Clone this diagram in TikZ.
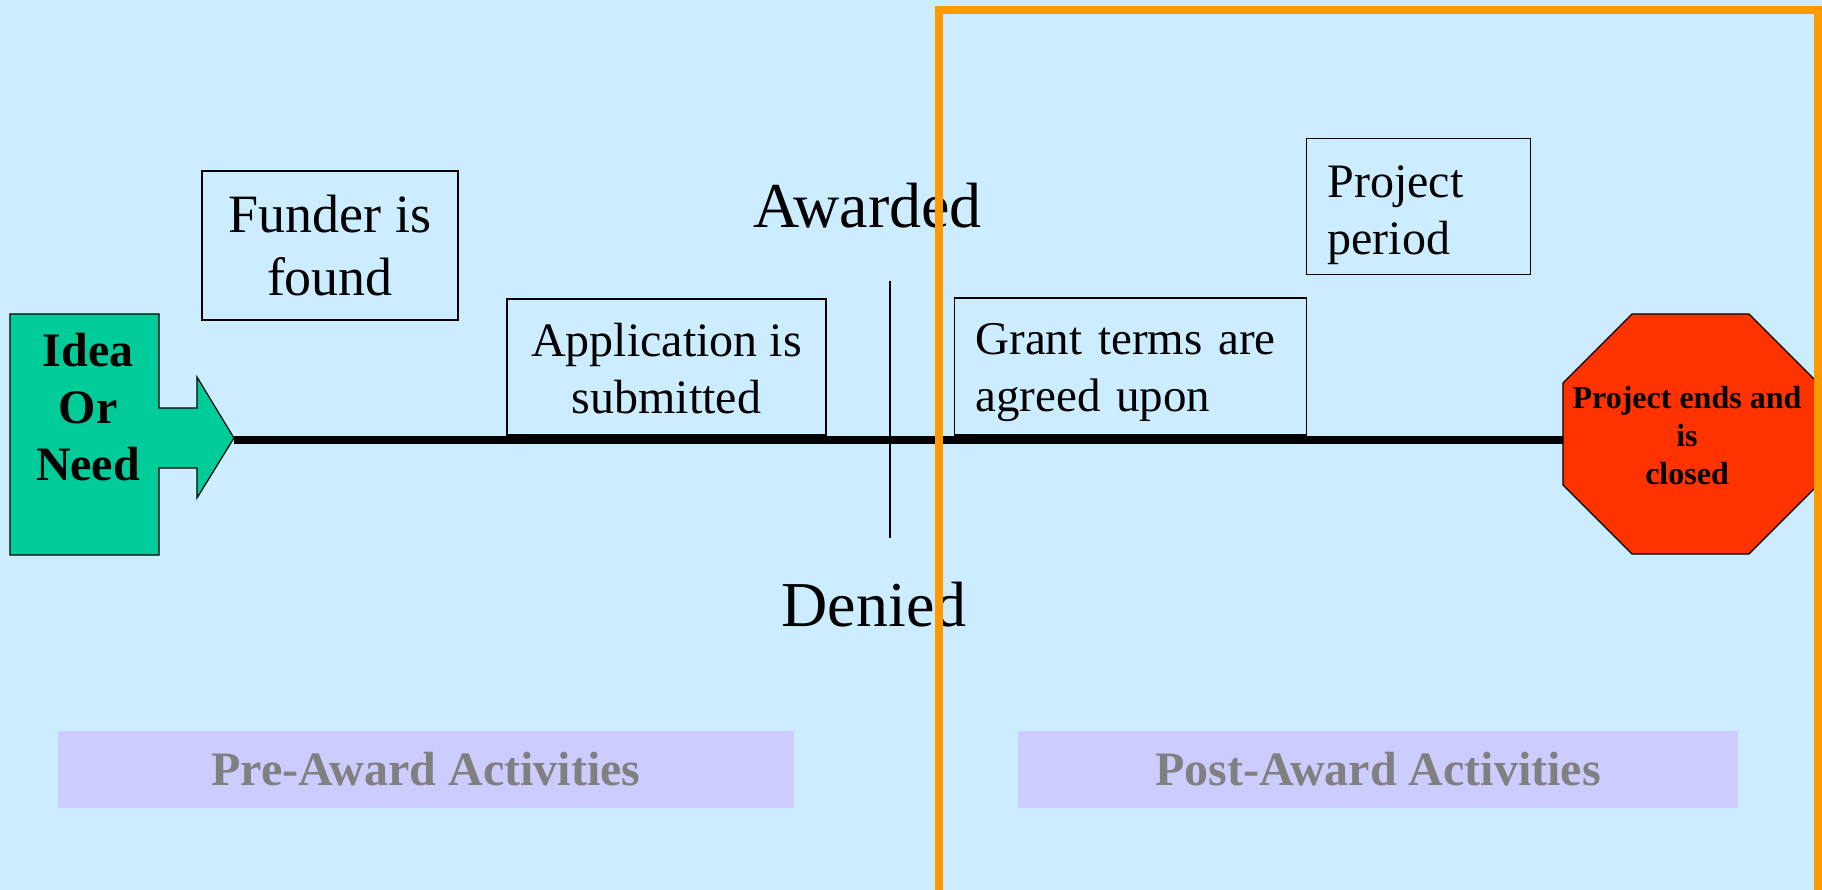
\documentclass[tikz,border=0pt]{standalone}
\usepackage{fontspec}
\setmainfont{Liberation Serif}
\usetikzlibrary{positioning}
\definecolor{skyback}{HTML}{CCECFF}
\definecolor{barlilac}{HTML}{CCCCFF}
\definecolor{ideagreen}{HTML}{00CC99}
\definecolor{stopred}{HTML}{FF3300}
\definecolor{frameorange}{HTML}{FF9900}
\tikzset{stagebox/.style={draw,line width=1.5pt,inner sep=0pt,font=\fontsize{48}{57}\selectfont},
  phasebar/.style={fill=barlilac,minimum height=77,inner sep=0pt,text=gray,font=\bfseries\fontsize{48}{57}\selectfont},
  outcome/.style={inner sep=0pt,font=\fontsize{64}{70}\selectfont}}

\begin{document}
\begin{tikzpicture}[x=1pt,y=-1pt] % pixel grid, y downwards
            \useasboundingbox[fill=skyback] (0,0) rectangle (1822,890);
            \node[phasebar,minimum width=736] (pre) at (426,769.5) {Pre-Award Activities};
            \node[phasebar,minimum width=720] (post) at (1378,769.5) {Post-Award Activities};
            % start arrow
            \draw[fill=ideagreen,line width=1.2pt] (10,314)--(159,314)--(159,408)--(197,408)--(197,377)
                --(234,438)--(197,498)--(197,468)--(159,468)--(159,555)--(10,555)--cycle;
            \coordinate (ideatip) at (234,440);
            \node[align=center,inner sep=0pt,font=\bfseries\fontsize{48}{57}\selectfont] (idea) at (88,407) {Idea\\Or\\Need};
            % stop sign
            \draw[fill=stopred,line width=1.2pt] (1563,383)--(1632,314)--(1749,314)--(1818,383)--(1818,485)
                --(1749,554)--(1632,554)--(1563,485)--cycle;
            \coordinate (stopleft) at (1563,440);
            \node[align=center,inner sep=0pt,font=\bfseries\fontsize{32}{38}\selectfont] (closed) at (1687,436) {Project ends and\\is\\closed};
            \draw[line width=8pt] (ideatip)--(stopleft); % time line
            % steps
            \node[stagebox,align=center,minimum width=256,minimum height=149,font=\fontsize{54}{63}\selectfont] (funder) at (330,245.5) {Funder is\\found};
            \node[stagebox,align=center,minimum width=319,minimum height=136] (apply) at (666.5,367) {\rule{0pt}{36pt}Application is\\submitted};
            \node[stagebox,align=left,text width=310,inner xsep=21,minimum height=137,font=\fontsize{47}{57}\selectfont] (terms) at (1130.5,366.5) {\rule{0pt}{44pt}Grant terms are\\agreed upon};
            \node[stagebox,align=left,text width=182,inner xsep=21,minimum height=136] (period) at (1418.5,206.5) {\rule{0pt}{50pt}Project\\period};
            % decision
            \node[outcome,anchor=base] (award) at (867.5,228) {Awarded};
            \node[outcome,anchor=base] (deny) at (874,626) {Denied};
            \coordinate (divtop) at (890,281);
            \coordinate (divbot) at (890,538);
            \draw[line width=1.5pt] (divtop)--(divbot);
            \draw[frameorange,line width=8pt] (939,10) rectangle (1818,900); % post-award frame
        \end{tikzpicture}
\end{document}
